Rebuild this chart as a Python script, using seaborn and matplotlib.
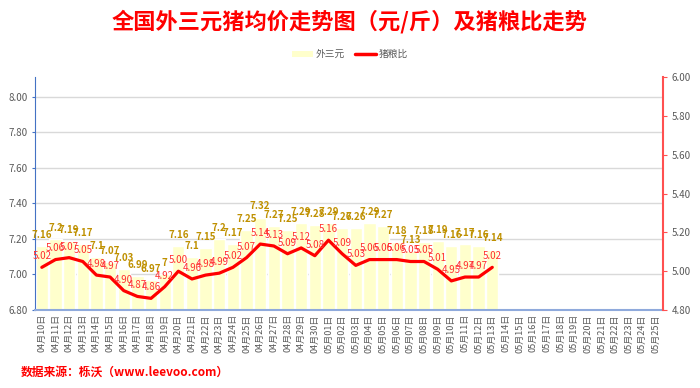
import matplotlib
matplotlib.use("Agg")
import matplotlib.pyplot as plt
from matplotlib.lines import Line2D
from matplotlib.patches import Patch
import seaborn as sns
import pandas as pd
import numpy as np

# x categories: 04月10日 .. 05月25日
dates = [f"04月{d:02d}日" for d in range(10, 31)] + [f"05月{d:02d}日" for d in range(1, 26)]

# 外三元 average price (元/斤)
price = [7.16, 7.2, 7.19, 7.17, 7.1, 7.07, 7.03, 6.99, 6.97, 7,
         7.16, 7.1, 7.15, 7.2, 7.17, 7.25, 7.32, 7.27, 7.25, 7.29,
         7.28, 7.29, 7.26, 7.26, 7.29, 7.27, 7.18, 7.13, 7.18, 7.19,
         7.16, 7.17, 7.16, 7.14]

# 猪粮比
ratio = [5.02, 5.06, 5.07, 5.05, 4.98, 4.97, 4.90, 4.87, 4.86, 4.92,
         5.00, 4.96, 4.98, 4.99, 5.02, 5.07, 5.14, 5.13, 5.09, 5.12,
         5.08, 5.16, 5.09, 5.03, 5.06, 5.06, 5.06, 5.05, 5.05, 5.01,
         4.95, 4.97, 4.97, 5.02]

sns.set_style("white")
plt.rcParams['font.family'] = ['Noto Sans CJK SC', 'DejaVu Sans']

BAR_COLOR = "#FFFFCC"
LINE_COLOR = "#FF0000"
TICK_GRAY = "#595959"

df = pd.DataFrame({"date": dates[:len(price)], "price": price})
df_ratio = pd.DataFrame({"pos": np.arange(len(ratio)), "ratio": ratio})

fig = plt.figure(figsize=(7, 3.88), dpi=100)
ax = fig.add_axes([0.05, 0.201, 0.897, 0.600])

sns.barplot(data=df, x="date", y="price", order=dates, color=BAR_COLOR,
            width=0.9, saturation=1, ax=ax, zorder=2)
ax.set_ylim(6.8, 8.11)
ax.set_yticks(np.arange(6.8, 8.01, 0.2))
ax.set_yticklabels([f"{v:.2f}" for v in np.arange(6.8, 8.01, 0.2)])
ax.yaxis.grid(True, color="#D9D9D9", linewidth=1, zorder=0)
ax.set_axisbelow(True)
ax.set_xlim(-0.5, len(dates) - 0.5)
ax.set_xlabel("")
ax.set_ylabel("")

ax.tick_params(axis="x", which="major", length=0, labelrotation=90,
               labelsize=6.5, labelcolor=TICK_GRAY, pad=3)
ax.set_xticks(np.arange(len(dates)) - 0.5, minor=True)
ax.tick_params(axis="x", which="minor", length=3, color="#4472C4", direction="out")
ax.tick_params(axis="y", length=2, color="#4472C4", labelsize=7, labelcolor=TICK_GRAY)

for side in ["top", "right"]:
    ax.spines[side].set_visible(False)
ax.spines["left"].set_color("#4472C4")
ax.spines["bottom"].set_color("#8FAADC")
ax.spines["bottom"].set_linewidth(1.5)

for i, v in enumerate(price):
    ax.annotate(f"{v:g}", (i, v), xytext=(0, 8), textcoords="offset points",
                ha="center", va="center", fontsize=7, fontweight="bold",
                color="#BF9000", zorder=5)

ax2 = ax.twinx()
sns.lineplot(data=df_ratio, x="pos", y="ratio", color=LINE_COLOR, linewidth=2.3, ax=ax2)
ax2.set_ylim(4.8, 6.0)
ax2.set_yticks(np.arange(4.8, 6.01, 0.2))
ax2.set_yticklabels([f"{v:.2f}" for v in np.arange(4.8, 6.01, 0.2)])
ax2.set_ylabel("")
ax2.set_xlabel("")
ax2.tick_params(axis="y", length=3, color="#FF5050", labelsize=7, labelcolor=TICK_GRAY)
for side in ["top", "left", "bottom"]:
    ax2.spines[side].set_visible(False)
ax2.spines["right"].set_color("#FF5050")
ax2.spines["right"].set_linewidth(1.5)

for i, v in enumerate(ratio):
    ax2.annotate(f"{v:.2f}", (i, v), xytext=(0, 8), textcoords="offset points",
                 ha="center", va="center", fontsize=7, color="#FF3030", zorder=6)

fig.text(0.5, 0.945, "全国外三元猪均价走势图（元/斤）及猪粮比走势", ha="center", va="center",
         fontsize=16, fontweight="bold", color="#FF0000")

handles = [Patch(facecolor=BAR_COLOR, edgecolor="none"),
           Line2D([0], [0], color=LINE_COLOR, linewidth=2.5)]
fig.legend(handles, ["外三元", "猪粮比"], loc="center", bbox_to_anchor=(0.5, 0.86),
           ncol=2, frameon=False, fontsize=7, labelcolor=TICK_GRAY,
           handlelength=2.2, handleheight=0.5, columnspacing=1.0, handletextpad=0.3)

fig.text(0.03, 0.04, "数据来源：栎沃（www.leevoo.com）", ha="left", va="center",
         fontsize=8.5, fontweight="bold", color="#FF0000")

fig.savefig("out.png", dpi=100)
